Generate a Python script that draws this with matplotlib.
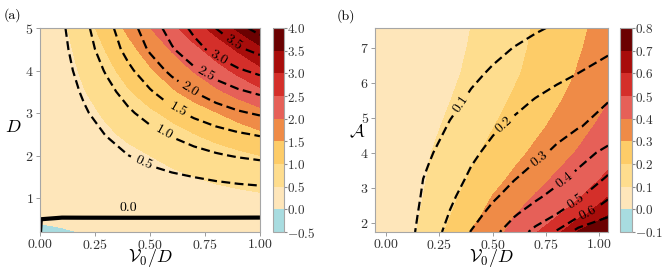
import numpy as np
import matplotlib
matplotlib.use("Agg")
import matplotlib.pyplot as plt
from matplotlib.colors import ListedColormap, BoundaryNorm

plt.rcParams['font.family'] = 'serif'
plt.rcParams['font.serif'] = ['cmr10']
plt.rcParams['mathtext.fontset'] = 'cm'
plt.rcParams['axes.formatter.use_mathtext'] = True
plt.rcParams['axes.unicode_minus'] = True

# ---- panel (a): filled field and dashed-line field over (V0/D, D) ----
xa = [0.0, 0.1, 0.2, 0.3, 0.4, 0.5, 0.6, 0.7, 0.8, 0.9, 1.0]
Da = [0.2, 0.5, 1.0, 1.5, 2.0, 2.5, 3.0, 3.5, 4.0, 4.5, 5.0]

fill_a = [
    [-0.20, -0.05, 0.02, 0.03, 0.04, 0.05, 0.06, 0.07, 0.08, 0.09, 0.10],
    [0.10, 0.10, 0.10, 0.10, 0.10, 0.11, 0.12, 0.14, 0.16, 0.18, 0.20],
    [0.10, 0.10, 0.10, 0.13, 0.17, 0.21, 0.25, 0.29, 0.34, 0.38, 0.42],
    [0.10, 0.10, 0.14, 0.22, 0.29, 0.36, 0.43, 0.50, 0.58, 0.65, 0.72],
    [0.10, 0.10, 0.20, 0.30, 0.40, 0.50, 0.60, 0.70, 0.80, 0.90, 1.00],
    [0.10, 0.14, 0.28, 0.43, 0.57, 0.71, 0.85, 0.99, 1.14, 1.28, 1.42],
    [0.10, 0.19, 0.37, 0.56, 0.74, 0.93, 1.11, 1.30, 1.48, 1.67, 1.85],
    [0.10, 0.24, 0.48, 0.72, 0.96, 1.20, 1.44, 1.68, 1.92, 2.16, 2.40],
    [0.10, 0.29, 0.58, 0.87, 1.16, 1.45, 1.74, 2.03, 2.32, 2.61, 2.90],
    [0.10, 0.34, 0.68, 1.02, 1.36, 1.70, 2.04, 2.38, 2.72, 3.06, 3.40],
    [0.10, 0.40, 0.80, 1.19, 1.59, 1.99, 2.39, 2.79, 3.18, 3.58, 3.98],
]

line_a = [
    [0.0001, -0.03, -0.06, -0.09, -0.12, -0.15, -0.18, -0.21, -0.24, -0.27, -0.30],
    [0.0001, -0.0025, -0.005, -0.0075, -0.01, -0.0125, -0.015, -0.0175, -0.02, -0.0225, -0.025],
    [0.01, 0.030, 0.063, 0.096, 0.131, 0.164, 0.196, 0.225, 0.251, 0.273, 0.29],
    [0.01, 0.068, 0.141, 0.216, 0.293, 0.367, 0.439, 0.505, 0.563, 0.612, 0.65],
    [0.01, 0.115, 0.238, 0.366, 0.495, 0.622, 0.743, 0.854, 0.953, 1.037, 1.10],
    [0.01, 0.161, 0.334, 0.512, 0.693, 0.870, 1.040, 1.196, 1.334, 1.451, 1.54],
    [0.01, 0.216, 0.446, 0.685, 0.927, 1.164, 1.391, 1.599, 1.785, 1.941, 2.06],
    [0.01, 0.270, 0.559, 0.858, 1.161, 1.458, 1.742, 2.003, 2.235, 2.431, 2.58],
    [0.01, 0.327, 0.676, 1.038, 1.404, 1.763, 2.106, 2.422, 2.703, 2.940, 3.12],
    [0.01, 0.381, 0.788, 1.211, 1.638, 2.057, 2.457, 2.826, 3.154, 3.430, 3.64],
    [0.01, 0.429, 0.877, 1.335, 1.796, 2.252, 2.695, 3.115, 3.506, 3.862, 4.17],
]

levels_a = [-0.5, 0.0, 0.5, 1.0, 1.5, 2.0, 2.5, 3.0, 3.5, 4.0]
lines_a = [0.5, 1.0, 1.5, 2.0, 2.5, 3.0, 3.5, 4.0]

# ---- panel (b): filled field and dashed-line field over (V0/D, A) ----
xb = [-0.05, 0.1, 0.2, 0.3, 0.4, 0.5, 0.6, 0.7, 0.8, 0.9, 1.04]
Ab = [1.73, 2.25, 2.75, 3.25, 4.0, 4.75, 5.5, 6.25, 7.0, 7.56]

fill_b = [
    [0.02, 0.066, 0.142, 0.220, 0.304, 0.365, 0.427, 0.491, 0.569, 0.705, 0.785],
    [0.02, 0.060, 0.127, 0.194, 0.266, 0.333, 0.394, 0.441, 0.485, 0.559, 0.69],
    [0.02, 0.055, 0.115, 0.175, 0.238, 0.302, 0.355, 0.406, 0.447, 0.487, 0.596],
    [0.02, 0.053, 0.105, 0.157, 0.210, 0.266, 0.319, 0.368, 0.414, 0.456, 0.515],
    [0.02, 0.051, 0.094, 0.138, 0.181, 0.226, 0.272, 0.318, 0.362, 0.407, 0.47],
    [0.02, 0.038, 0.077, 0.117, 0.157, 0.196, 0.237, 0.278, 0.321, 0.367, 0.431],
    [0.015, 0.024, 0.061, 0.098, 0.135, 0.172, 0.210, 0.249, 0.289, 0.332, 0.395],
    [0.01, 0.012, 0.047, 0.082, 0.118, 0.153, 0.188, 0.226, 0.266, 0.306, 0.36],
    [0.01, 0.01, 0.036, 0.072, 0.107, 0.142, 0.177, 0.213, 0.252, 0.291, 0.345],
    [0.01, 0.01, 0.029, 0.065, 0.101, 0.135, 0.171, 0.207, 0.245, 0.282, 0.335],
]

line_b = [
    [0.0, 0.07, 0.15, 0.229, 0.304, 0.375, 0.448, 0.525, 0.61, 0.74, 0.86],
    [0.0, 0.065, 0.135, 0.204, 0.265, 0.326, 0.389, 0.445, 0.499, 0.568, 0.664],
    [0.0, 0.061, 0.123, 0.185, 0.237, 0.286, 0.334, 0.382, 0.433, 0.485, 0.586],
    [0.0, 0.061, 0.113, 0.166, 0.214, 0.255, 0.296, 0.336, 0.377, 0.426, 0.513],
    [0.0, 0.042, 0.089, 0.137, 0.185, 0.220, 0.250, 0.280, 0.315, 0.361, 0.425],
    [0.0, 0.024, 0.065, 0.106, 0.147, 0.188, 0.218, 0.244, 0.270, 0.295, 0.331],
    [0.0, 0.018, 0.049, 0.080, 0.111, 0.142, 0.173, 0.204, 0.231, 0.259, 0.297],
    [0.0, 0.017, 0.040, 0.063, 0.086, 0.109, 0.132, 0.155, 0.178, 0.201, 0.234],
    [0.0, 0.006, 0.025, 0.044, 0.063, 0.082, 0.101, 0.120, 0.139, 0.158, 0.185],
    [0.0, 0.0, 0.01, 0.028, 0.044, 0.060, 0.076, 0.092, 0.108, 0.124, 0.147],
]

levels_b = [-0.1, 0.0, 0.1, 0.2, 0.3, 0.4, 0.5, 0.6, 0.7, 0.8]
lines_b = [0.1, 0.2, 0.3, 0.4, 0.5, 0.6, 0.7]

band_colors = ['#a8dce0', '#fee6ba', '#fedd8e', '#fdcc68', '#ef8b47',
               '#e66058', '#d42f2a', '#a80d0b', '#6b0101']
cmap = ListedColormap(band_colors)

# label spots (layout only)
lab_a = [(0.47, 1.83), (0.56, 2.5), (0.63, 3.08), (0.68, 3.55),
         (0.76, 3.98), (0.81, 4.3), (0.88, 4.65)]
lab_b = [(0.36, 5.35), (0.58, 4.6), (0.73, 3.74), (0.84, 3.17),
         (0.89, 2.6), (0.955, 2.2)]

dash = (0, (4, 2))

fig = plt.figure(figsize=(6.64, 2.68), dpi=100)
ax_a = fig.add_axes([0.0602, 0.1343, 0.3313, 0.7612])
cax_a = fig.add_axes([0.4111, 0.1343, 0.0166, 0.7612])
ax_b = fig.add_axes([0.5648, 0.1343, 0.3509, 0.7612])
cax_b = fig.add_axes([0.9337, 0.1343, 0.0181, 0.7612])


def style(ax):
    for sp in ax.spines.values():
        sp.set_color('0.65')
        sp.set_linewidth(0.8)
    ax.tick_params(colors='0.55', labelcolor='0.2', labelsize=10,
                   length=3, width=0.6, pad=1.5)


def style_cbar(cb):
    cb.outline.set_edgecolor('0.65')
    cb.ax.tick_params(colors='0.55', labelcolor='0.2', labelsize=9.5,
                      length=2, pad=0.5)


# panel (a)
cf = ax_a.contourf(xa, Da, np.array(fill_a), levels=levels_a, cmap=cmap,
                   norm=BoundaryNorm(levels_a, cmap.N))
cs = ax_a.contour(xa, Da, np.array(line_a), levels=lines_a, colors='k',
                  linewidths=1.6, linestyles=[dash])
ax_a.clabel(cs, fmt='%.1f', manual=lab_a, inline=True, fontsize=10)
ax_a.contour(xa, Da, np.array(line_a), levels=[0.0], colors='k',
             linewidths=3.0, linestyles='solid')
ax_a.text(0.40, 0.77, '0.0', ha='center', va='center', fontsize=10)
ax_a.set_xlim(0, 1)
ax_a.set_ylim(0.2, 5)
ax_a.set_xticks([0, 0.25, 0.5, 0.75, 1.0])
ax_a.set_yticks([1, 2, 3, 4, 5])
ax_a.set_xlabel(r'$\mathcal{V}_0/D$', fontsize=13, va='center')
ax_a.xaxis.set_label_coords(0.5, -0.127)
ax_a.set_ylabel(r'$D$', fontsize=13, rotation=0, ha='center', va='center')
ax_a.yaxis.set_label_coords(-0.123, 0.515)
style(ax_a)
style_cbar(fig.colorbar(cf, cax=cax_a, ticks=levels_a))

# panel (b)
cf2 = ax_b.contourf(xb, Ab, np.array(fill_b), levels=levels_b, cmap=cmap,
                    norm=BoundaryNorm(levels_b, cmap.N))
cs2 = ax_b.contour(xb, Ab, np.array(line_b), levels=lines_b, colors='k',
                   linewidths=1.6, linestyles=[dash])
ax_b.clabel(cs2, fmt='%.1f', manual=lab_b, inline=True, fontsize=10)
ax_b.set_xlim(-0.05, 1.04)
ax_b.set_ylim(1.73, 7.56)
ax_b.set_xticks([0, 0.25, 0.5, 0.75, 1.0])
ax_b.set_yticks([2, 3, 4, 5, 6, 7])
ax_b.set_xlabel(r'$\mathcal{V}_0/D$', fontsize=13, va='center')
ax_b.xaxis.set_label_coords(0.5, -0.127)
ax_b.set_ylabel(r'$\mathcal{A}$', fontsize=13, rotation=0, ha='center', va='center')
ax_b.yaxis.set_label_coords(-0.075, 0.49)
style(ax_b)
style_cbar(fig.colorbar(cf2, cax=cax_b, ticks=levels_b))

fig.text(0.006, 0.97, '(a)', ha='left', va='top', fontsize=10)
fig.text(0.507, 0.965, '(b)', ha='left', va='top', fontsize=10)

fig.savefig('out.png', dpi=100)
